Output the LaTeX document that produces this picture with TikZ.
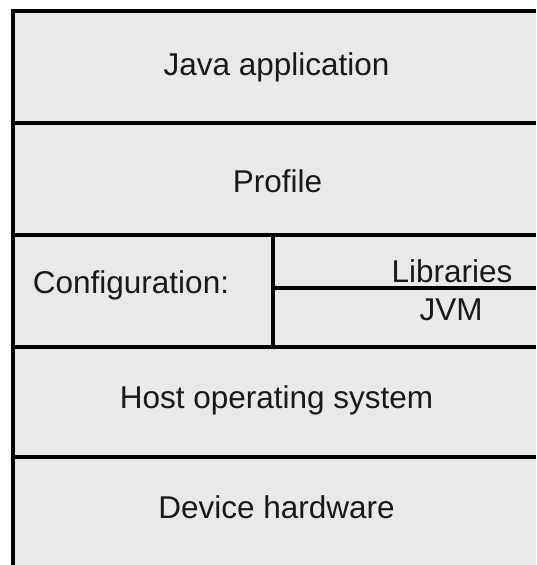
\documentclass[tikz,border=0pt]{standalone}
\usepackage{fontspec}
\setmainfont{Liberation Sans}
\begin{document}
\begin{tikzpicture}[x=1pt,y=-1pt,
  rule/.style={line width=4pt,black},
  label/.style={anchor=base,inner sep=0pt,font=\fontsize{31.5}{36}\selectfont,text=black!90}]
\useasboundingbox (0,0) rectangle (536,565);
% layer area
\fill[fill={rgb,255:red,233;green,233;blue,233}] (12.5,10.5) rectangle (536,565);
% outer frame: top edge and left edge
\coordinate (tr) at (536,10.5);
\coordinate (tl) at (12.5,10.5);
\coordinate (bl) at (12.5,565);
\draw[rule] (tr) -- (tl) -- (bl);
% layer separators
\foreach \y/\n in {122.5/a,235/b,347/c,457/d}{
  \coordinate (\n l) at (12.5,\y);
  \coordinate (\n r) at (536,\y);
  \draw[rule] (\n l) -- (\n r);
}
% configuration split
\coordinate (vt) at (273,235);
\coordinate (vb) at (273,347);
\coordinate (sl) at (273,288);
\coordinate (sr) at (536,288);
\draw[rule] (vt) -- (vb);
\draw[rule] (sl) -- (sr);
% labels
\node[label] (app) at (276.5,75) {Java application};
\node[label] (prof) at (277.5,192) {Profile};
\node[label] (conf) at (131,293) {Configuration:};
\node[label] (lib) at (452,282) {Libraries};
\node[label] (jvm) at (451,320) {JVM};
\node[label] (host) at (276.5,408) {Host operating system};
\node[label] (hw) at (276.5,518) {Device hardware};
\end{tikzpicture}
\end{document}
